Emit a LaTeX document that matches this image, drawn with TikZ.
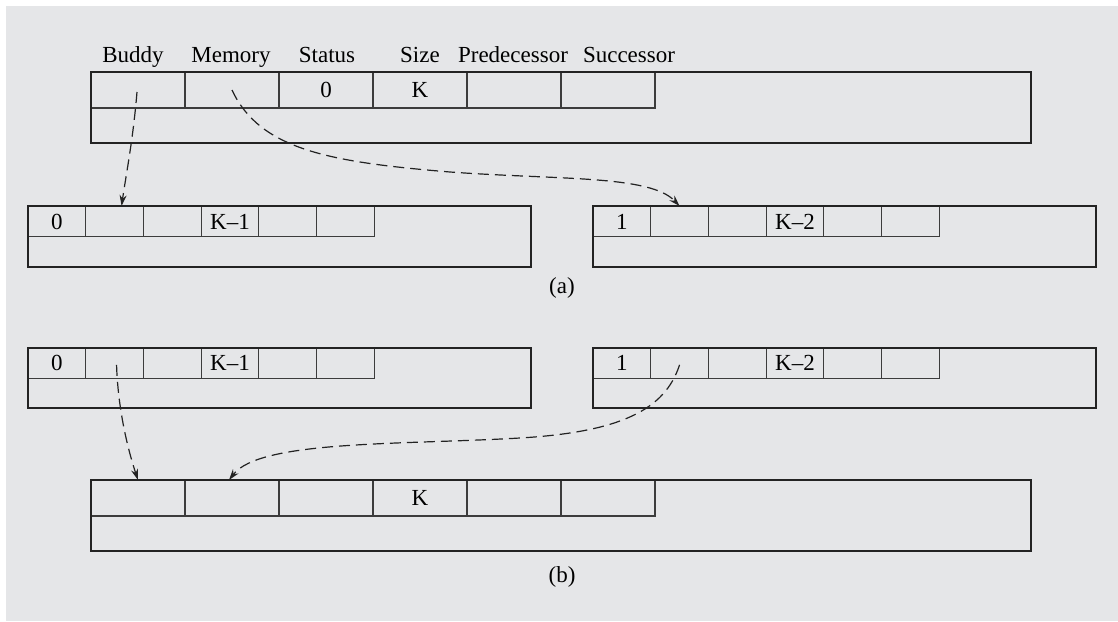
\documentclass[tikz,border=0pt]{standalone}
\usepackage{fontspec}
\setmainfont{Liberation Serif}
\usetikzlibrary{arrows.meta}
\definecolor{bg}{RGB}{229,230,232}
\definecolor{ink}{RGB}{35,35,35}
\definecolor{thin}{RGB}{60,60,60}
\tikzset{
  outerbox/.style={draw=ink, line width=2pt, inner sep=0pt, outer sep=0pt, anchor=north west},
  cellbox/.style={draw=thin, line width=1.2pt, inner sep=0pt, outer sep=0pt, anchor=north west,
    font=\fontsize{23}{27}\selectfont, text height=15.6pt, text depth=0pt},
  bigcell/.style={cellbox, minimum width=94pt, minimum height=36pt},
  smallcell/.style={cellbox, minimum width=57.7pt, minimum height=30.7pt},
  lbl/.style={font=\fontsize{23}{27}\selectfont, anchor=base, inner sep=0pt},
  link/.style={ink, line width=1.2pt, dash pattern=on 11pt off 6pt,
    -{Stealth[length=11pt,width=7pt]}},
}
\begin{document}
\begin{tikzpicture}[x=1pt,y=-1pt]
\useasboundingbox (0,0) rectangle (1118,621);
\fill[white] (0,0) rectangle (1118,621);
\fill[bg] (6,6) rectangle (1118,621);

% column labels
\node[lbl] (lb1) at (133,62) {Buddy};
\node[lbl] (lb2) at (231,62) {Memory};
\node[lbl] (lb3) at (327,62) {Status};
\node[lbl] (lb4) at (420,62) {Size};
\node[lbl] (lb5) at (513,62) {Predecessor};
\node[lbl] (lb6) at (629,62) {Successor};

% top record
\node[bigcell] (t1) at (91,72) {};
\node[bigcell] (t2) at (185,72) {};
\node[bigcell] (t3) at (279,72) {0};
\node[bigcell] (t4) at (373,72) {K};
\node[bigcell] (t5) at (467,72) {};
\node[bigcell] (t6) at (561,72) {};
\node[outerbox, minimum width=940pt, minimum height=71pt] (top) at (91,72) {};

% (a) left record
\node[smallcell] (a1) at (28,206) {0};
\node[smallcell] (a2) at (85.7,206) {};
\node[smallcell] (a3) at (143.4,206) {};
\node[smallcell] (a4) at (201.1,206) {K--1};
\node[smallcell] (a5) at (258.8,206) {};
\node[smallcell] (a6) at (316.5,206) {};
\node[outerbox, minimum width=503pt, minimum height=61pt] (aL) at (28,206) {};

% (a) right record
\node[smallcell] (b1) at (593,206) {1};
\node[smallcell] (b2) at (650.7,206) {};
\node[smallcell] (b3) at (708.4,206) {};
\node[smallcell] (b4) at (766.1,206) {K--2};
\node[smallcell] (b5) at (823.8,206) {};
\node[smallcell] (b6) at (881.5,206) {};
\node[outerbox, minimum width=503pt, minimum height=61pt] (aR) at (593,206) {};

\node[lbl] (capa) at (562,293) {(a)};

% (b) left record
\node[smallcell] (c1) at (28,347.5) {0};
\node[smallcell] (c2) at (85.7,347.5) {};
\node[smallcell] (c3) at (143.4,347.5) {};
\node[smallcell] (c4) at (201.1,347.5) {K--1};
\node[smallcell] (c5) at (258.8,347.5) {};
\node[smallcell] (c6) at (316.5,347.5) {};
\node[outerbox, minimum width=503pt, minimum height=60pt] (bL) at (28,347.5) {};

% (b) right record
\node[smallcell] (d1) at (593,347.5) {1};
\node[smallcell] (d2) at (650.7,347.5) {};
\node[smallcell] (d3) at (708.4,347.5) {};
\node[smallcell] (d4) at (766.1,347.5) {K--2};
\node[smallcell] (d5) at (823.8,347.5) {};
\node[smallcell] (d6) at (881.5,347.5) {};
\node[outerbox, minimum width=503pt, minimum height=60pt] (bR) at (593,347.5) {};

% bottom record
\node[bigcell] (u1) at (91,480) {};
\node[bigcell] (u2) at (185,480) {};
\node[bigcell] (u3) at (279,480) {};
\node[bigcell] (u4) at (373,480) {K};
\node[bigcell] (u5) at (467,480) {};
\node[bigcell] (u6) at (561,480) {};
\node[outerbox, minimum width=940pt, minimum height=71pt] (bot) at (91,480) {};

\node[lbl] (capb) at (562,582) {(b)};

% connectors (a)
\draw[link] ([xshift=-1pt,yshift=-2pt]t1.center) .. controls (133,140) and (126,175) .. ([xshift=7pt]a2.north);
\draw[link] (t2.center) .. controls (260,150) and (330,162) .. (450,172)
   .. controls (560,180) and (650,175) .. (b2.north);

% connectors (b)
\draw[link] ([xshift=2pt,yshift=-2pt]c2.center) .. controls (118,410) and (128,450) .. (u1.north);
\draw[link] ([yshift=-2pt]d2.center) .. controls (665,410) and (620,432) .. (520,438)
   .. controls (400,445) and (260,440) .. ([xshift=-3pt]u2.north);
\end{tikzpicture}
\end{document}
